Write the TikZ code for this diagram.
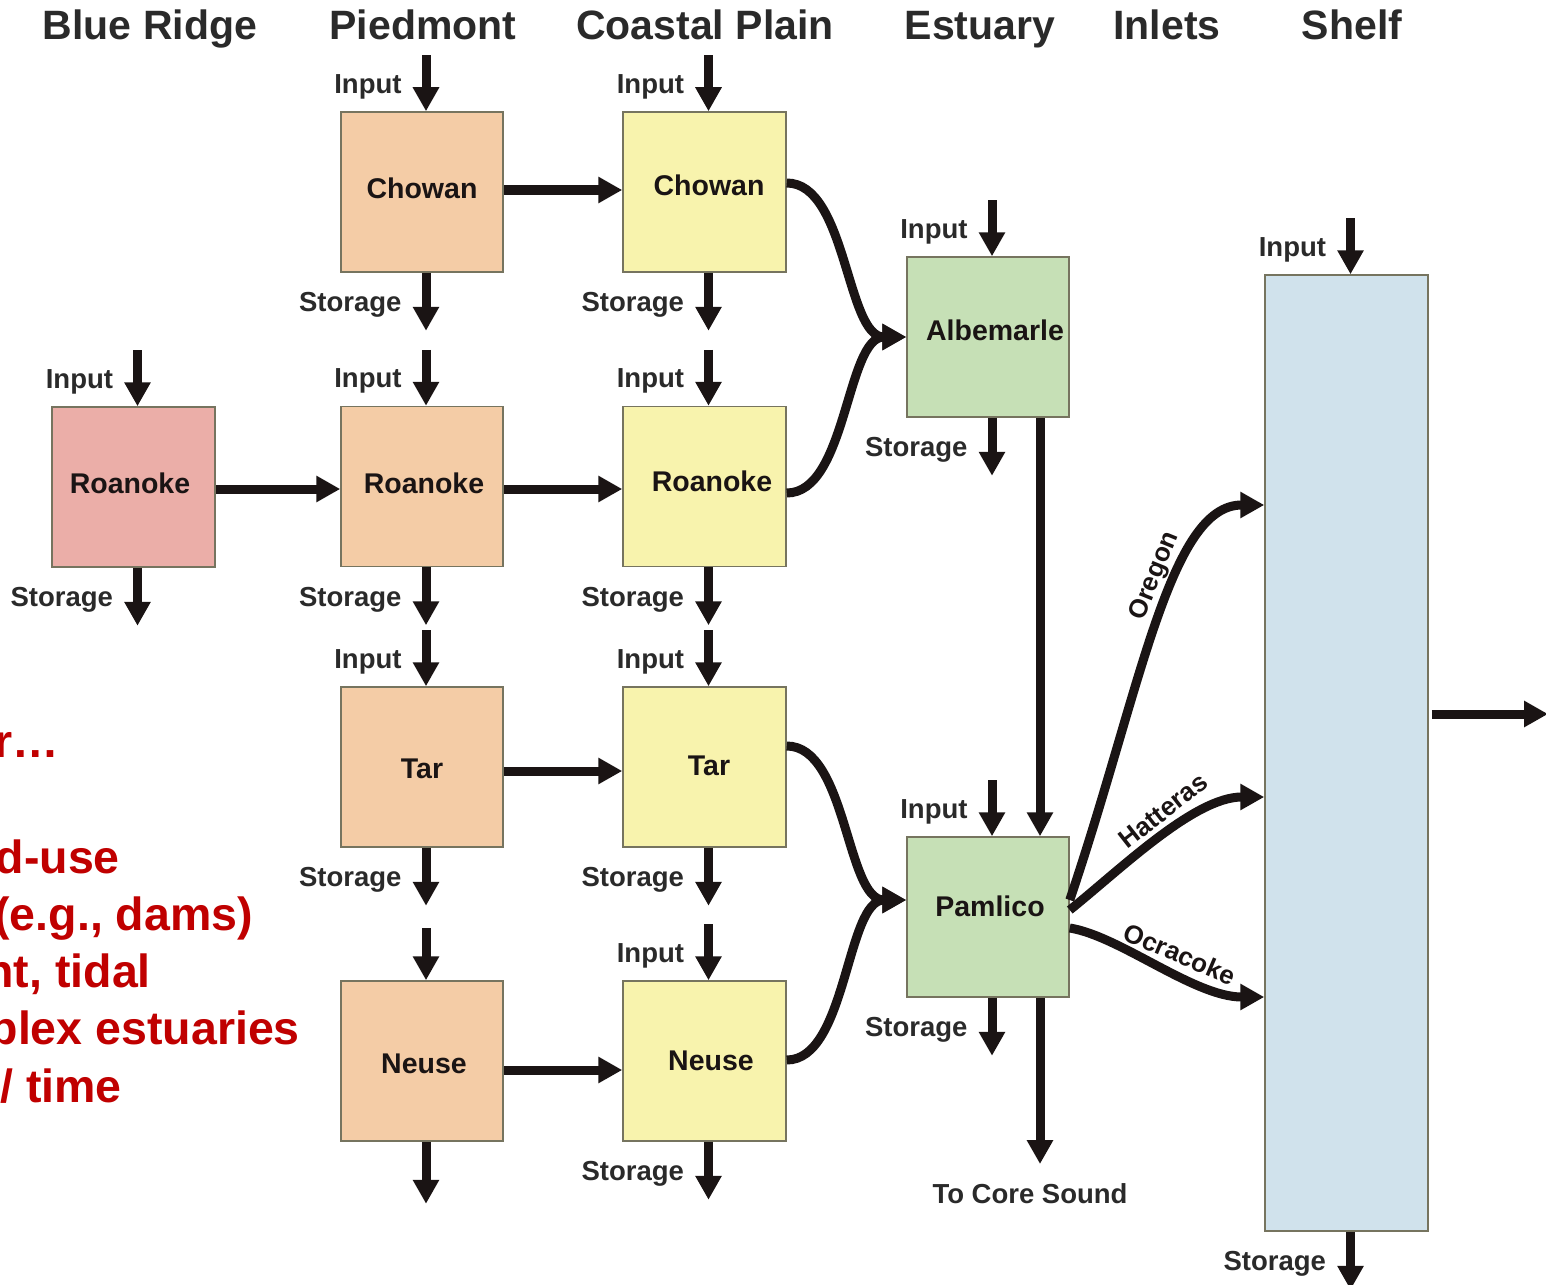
\documentclass[tikz,border=0pt]{standalone}
\usepackage{fontspec}
\setmainfont{Liberation Sans}
\usetikzlibrary{arrows.meta,calc}
\definecolor{brc}{HTML}{EBAEA8}
\definecolor{pdc}{HTML}{F4CCA6}
\definecolor{cpc}{HTML}{F8F3AD}
\definecolor{esc}{HTML}{C6E0B6}
\definecolor{shc}{HTML}{D0E2EC}
\definecolor{bordc}{HTML}{76745F}
\definecolor{inkc}{HTML}{1A1414}
\definecolor{txtc}{HTML}{2A2A2A}
\definecolor{redc}{HTML}{C00000}
\newcommand\hdrfont{\fontsize{41}{45}\selectfont\bfseries}
\newcommand\boxfont{\fontsize{28.5}{32}\selectfont\bfseries}
\newcommand\lblfont{\fontsize{27.5}{30}\selectfont\bfseries}
\newcommand\inlfont{\fontsize{26}{30}\selectfont\bfseries}
\newcommand\redfont{\fontsize{46.5}{50}\selectfont\bfseries}
\begin{document}
\begin{tikzpicture}[x=1pt,y=-1pt,
  box/.style={draw=bordc, line width=1.5pt, minimum width=162pt, minimum height=160pt, inner sep=0pt},
  bl/.style={font=\boxfont, text=inkc, inner sep=0pt},
  arr/.style={line width=9pt, draw=inkc, -{Triangle[length=24pt,width=25pt]}},
  lbl/.style={font=\lblfont, text=txtc, inner sep=0pt, text height=20pt, text depth=0pt},
  hdr/.style={font=\hdrfont, text=txtc, inner sep=0pt, anchor=base},
  inl/.style={font=\inlfont, text=inkc, inner sep=0pt},
  red/.style={font=\redfont, text=redc, inner sep=0pt, anchor=base east}]
\useasboundingbox (0,0) rectangle (1546,1284);
\fill[white] (0,0) rectangle (1546,1284);

% headers
\node[hdr] (h1) at (150,40) {Blue Ridge};
\node[hdr] (h2) at (423,40) {Piedmont};
\node[hdr] (h3) at (705,40) {Coastal Plain};
\node[hdr] (h4) at (980,40) {Estuary};
\node[hdr] (h5) at (1167,40) {Inlets};
\node[hdr] (h6) at (1352,40) {Shelf};

% red side text (cut off by the page edge)
\node[red] (r1) at (59,757) {r…};
\node[red] (r2) at (120,873) {d-use};
\node[red] (r3) at (253,930) {(e.g., dams)};
\node[red] (r4) at (151,987) {nt, tidal};
\node[red] (r5) at (300,1044) {plex estuaries};
\node[red] (r6) at (122,1102) {/ time};

% boxes
\node[box, fill=brc, minimum width=163pt, label={[bl, shift={(-3.5,-4)}]center:Roanoke}] (br) at (133.5,487) {};
\node[box, fill=pdc, label={[bl, shift={(0,-4)}]center:Chowan}] (pc) at (422,192) {};
\node[box, fill=pdc, label={[bl, shift={(2,-3.5)}]center:Roanoke}] (pr) at (422,486.5) {};
\node[box, fill=pdc, label={[bl, shift={(0,2)}]center:Tar}] (pt) at (422,767) {};
\node[box, fill=pdc, label={[bl, shift={(2,3)}]center:Neuse}] (pn) at (422,1061) {};
\node[box, fill=cpc, minimum width=163pt, label={[bl, shift={(4.5,-7)}]center:Chowan}] (cc) at (704.5,192) {};
\node[box, fill=cpc, minimum width=163pt, label={[bl, shift={(7.5,-5.5)}]center:Roanoke}] (cr) at (704.5,486.5) {};
\node[box, fill=cpc, minimum width=163pt, label={[bl, shift={(4.5,-1)}]center:Tar}] (ct) at (704.5,767) {};
\node[box, fill=cpc, minimum width=163pt, label={[bl, shift={(6.5,0)}]center:Neuse}] (cn) at (704.5,1061) {};
\node[box, fill=esc, label={[bl, shift={(7,-7)}]center:Albemarle}] (alb) at (988,337) {};
\node[box, fill=esc, label={[bl, shift={(2,-11)}]center:Pamlico}] (pam) at (988,917) {};
\node[box, fill=shc, minimum width=163pt, minimum height=956pt] (shelf) at (1346.5,753) {};

% input / storage arrows with labels
\foreach \b in {br,pc,pr,pt,cc,cr,ct,cn,alb,pam,shelf} {
  \coordinate (\b-in) at ([xshift=4pt,yshift=56pt]\b.north);
  \coordinate (\b-st) at ([xshift=4pt,yshift=-58pt]\b.south);
  \draw[arr] (\b-in) -- (\b-in |- \b.north)
    node[lbl, pos=0.5, anchor=east, xshift=-20pt] {Input};
  \draw[arr] (\b.south -| \b-st) -- (\b-st)
    node[lbl, pos=0.5, anchor=east, xshift=-20pt] {Storage};
}
\coordinate (pn-in) at ([xshift=4pt,yshift=52pt]pn.north);
\coordinate (pn-st) at ([xshift=4pt,yshift=-62pt]pn.south);
\draw[arr] (pn-in) -- (pn-in |- pn.north);
\draw[arr] (pn.south -| pn-st) -- (pn-st);

% horizontal flows
\draw[arr] ([yshift=-2pt]br.east) -- ([yshift=-2pt]br.east -| pr.west);
\draw[arr] ([yshift=2pt]pc.east) -- ([yshift=2pt]pc.east -| cc.west);
\draw[arr] ([yshift=-2.5pt]pr.east) -- ([yshift=-2.5pt]pr.east -| cr.west);
\draw[arr] ([yshift=-4pt]pt.east) -- ([yshift=-4pt]pt.east -| ct.west);
\draw[arr] ([yshift=-9pt]pn.east) -- ([yshift=-9pt]pn.east -| cn.west);

% merging curves into the estuaries
\draw[arr] ([yshift=9pt]cc.east) .. controls +(60,0) and +(-60,0) .. (alb.west);
\draw[arr] ([yshift=-6.5pt]cr.east) .. controls +(60,0) and +(-60,0) .. (alb.west);
\draw[arr] ([yshift=21pt]ct.east) .. controls +(60,0) and +(-60,0) .. ([yshift=17pt]pam.west);
\draw[arr] ([yshift=1pt]cn.east) .. controls +(60,0) and +(-60,0) .. ([yshift=17pt]pam.west);

% estuary links
\draw[arr] ([xshift=52pt]alb.south) -- ([xshift=52pt]alb.south |- pam.north);
\coordinate (core) at (1040,1164);
\draw[arr] ([xshift=52pt]pam.south) -- (core);
\node[lbl, anchor=base, text height=, text depth=] (coretxt) at (1030,1203) {To Core Sound};

% inlets
\draw[arr] ([yshift=17pt]pam.east) .. controls +(71,-210) and +(-95,0) .. ([yshift=248pt]shelf.west);
\draw[arr] ([yshift=7pt]pam.east) .. controls +(50,-40) and +(-70,0) .. ([yshift=-44pt]shelf.west);
\draw[arr] ([yshift=-11pt]pam.east) .. controls +(50,8) and +(-70,0) .. ([yshift=-244pt]shelf.west);
\node[inl, rotate=68] (oreg) at (1155,576) {Oregon};
\node[inl, rotate=38] (hatt) at (1163,811) {Hatteras};
\node[inl, rotate=-23] (ocra) at (1180,954) {Ocracoke};

% shelf output
\coordinate (out) at (1548,714);
\draw[arr] ([xshift=3pt,yshift=39pt]shelf.east) -- (out);
\end{tikzpicture}
\end{document}
